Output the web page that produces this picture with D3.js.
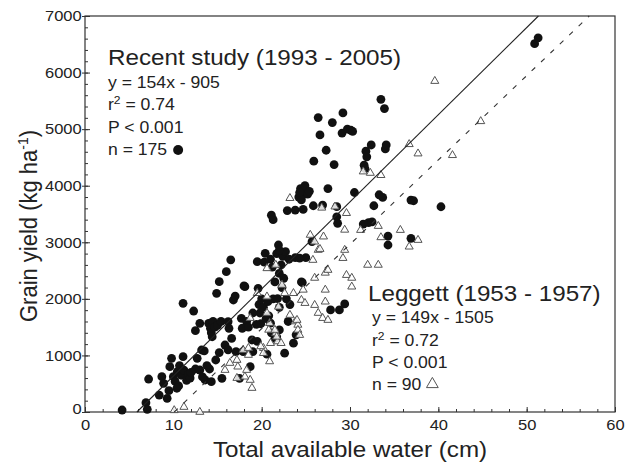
<!DOCTYPE html>
<html><head><meta charset="utf-8">
<script src="https://cdn.jsdelivr.net/npm/d3@7"></script>
<style>body{margin:0;background:#fff}svg{display:block}text{font-family:"Liberation Sans",Arial,Helvetica,sans-serif;fill:#222}</style>
</head><body>
<svg id="c" width="632" height="462"></svg>
<script>
const xTicks = [0,10,20,30,40,50,60];
const yTicks = [0,1000,2000,3000,4000,5000,6000,7000];
const recentFit = {slope:154, intercept:-905};
const leggettFit = {slope:149, intercept:-1505};
const recentLabel = ["Recent study (1993 - 2005)","y = 154x - 905","0.74","P < 0.001","n = 175"];
const leggettLabel = ["Leggett (1953 - 1957)","y = 149x - 1505","0.72","P < 0.001","n = 90"];
const recent = [
[4.2,35],[6.9,165],[7.05,48],[7.2,583],[8.4,300],[8.7,624],[8.9,507],[9.3,242],[9.5,377],[9.6,801],
[9.8,949],[10.0,624],[10.2,540],[10.45,712],[10.6,460],[10.7,820],[10.9,650],[11.1,978],[11.2,740],[11.5,560],
[11.7,660],[11.9,600],[11.1,1921],[12.3,1785],[12.5,1437],[12.7,949],[13.0,1567],[13.0,742],[13.2,1096],[13.5,1080],
[13.6,566],[14.0,1567],[14.1,760],[14.2,1480],[14.3,1400],[14.3,536],[14.4,1330],[14.5,1600],[14.7,1500],[14.8,919],
[14.9,2098],[15.0,1530],[15.2,2303],[15.4,1600],[15.5,596],[15.85,1184],[16.0,2480],[16.2,1596],[16.2,1100],[16.6,1300],
[16.5,2690],[16.8,1980],[17.0,2050],[17.1,1066],[17.5,596],[17.7,1656],[17.8,1480],[17.9,1066],[18.1,2215],[18.7,801],
[18.9,1273],[19.0,1066],[12.5,760],[13.3,620],[13.8,820],[12.0,700],[10.4,420],[16.3,1480],[15.2,1050],
[19.5,2658],[19.6,2186],[19.7,1900],[19.8,1750],[19.9,1560],[20.0,2000],[20.2,1850],[20.4,2805],[20.5,1650],[20.6,1023],
[20.7,1950],[20.8,1700],[21.0,1570],[21.0,2700],[21.1,1400],[21.2,2560],[21.3,2000],[21.5,2300],[21.5,1300],[21.7,2800],
[21.8,2005],[21.9,2952],[22.0,2450],[22.0,1850],[22.2,2600],[22.3,2200],[22.4,2750],[22.5,2364],[22.6,1040],[22.7,2834],
[22.8,2000],[23.0,1600],[23.1,2700],[23.2,1900],[23.6,1217],[23.8,2728],[23.9,1364],[24.6,2287],[25.0,2728],[25.7,3010],
[21.1,3480],[21.3,3400],[22.9,3560],[23.8,3570],[24.7,3581],[25.85,3646],[24.2,3800],[24.4,3950],[24.6,3900],[24.8,3850],
[25.0,3900],[25.2,3850],[24.5,3750],[24.9,4000],[25.4,3900],[24.3,3880],[18.0,2229],[18.3,1600],[18.5,1500],[19.4,1550],
[19.5,1250],[19.0,1750],[22.0,1450],[21.7,1330],[20.3,2650],[22.0,2860],[24.3,2720],[24.5,2300],
[26.9,3658],[27.5,3950],[28.5,3630],[28.5,3450],[28.6,3335],[25.9,4433],[26.4,5204],[26.6,4898],[27.3,4627],[28.0,5116],
[28.2,4374],[29.2,5286],[29.1,4930],[29.7,5000],[30.1,4980],[30.3,4960],[30.5,3880],[31.6,4363],[31.7,4300],[31.9,4510],
[31.8,4610],[32.4,4720],[33.5,5527],[33.9,5363],[34.0,4650],[34.1,4720],[33.3,3840],[33.7,3793],[32.7,3646],[31.5,3322],
[32.1,3346],[32.5,3360],[34.3,3110],[34.3,2952],[36.9,3070],[36.9,3746],[37.2,3734],[40.3,3628],[50.9,6510],[51.3,6615],
[27.8,1805],[28.8,1805],[29.4,1910]
];
const leggett = [
[10.1,30],[11.2,88],[13.0,0],
[15.85,742],[16.4,866],[17.2,919],[17.3,801],[17.9,1096],[18.5,1008],[18.3,742],[18.7,566],[18.9,424],[17.2,600],[18.1,624],[18.5,1130],
[20.2,1130],[20.2,1040],[19.9,1160],[20.8,1452],[20.9,894],[21.0,1217],[21.8,1247],[22.2,1217],[21.6,1394],
[19.5,2100],[20.6,2040],[20.6,1750],[21.5,1450],[21.7,1330],[18.7,1660],[20.9,1570],[21.9,1860],
[20.6,2540],[21.6,2600],[22.3,2245],[22.6,2100],[23.6,2100],[23.2,1715],[23.8,1600],[24.1,1540],[24.1,1450],[24.0,1626],[24.3,1360],
[24.7,2160],[24.5,1980],[24.9,1925],[26.0,1890],[26.4,1750],[26.9,1660],[27.5,1626],[27.2,1950],[27.2,2160],
[26.0,2370],[27.2,2460],[27.5,2510],[25.8,2687],
[29.6,2420],[30.2,2370],[30.2,2215],
[23.2,3780],[25.5,3130],[27.0,3100],[26.0,3010],[26.4,2864],[26.6,2880],[26.8,3610],
[28.3,3630],[29.6,3515],[29.4,3220],[29.4,2864],[29.2,2720],
[31.2,3216],[31.5,4250],[32.3,4225],[33.5,4186],[33.2,3287],[33.5,3087],[32.0,2600],[33.2,2600],[35.7,3216],[36.7,2922],
[36.7,4733],[37.7,4568],[37.7,3040],[39.6,5850],[41.6,4539],[44.8,5139]
];

const SX = 1.1; // horizontal stretch of lettering
const svg = d3.select("#c");
const L=85,R=615,T=16,B=412;
const x = d3.scaleLinear().domain([0,60]).range([L,R]);
const y = d3.scaleLinear().domain([0,7000]).range([B,T]);
const axCol="#333";

svg.append("rect").attr("x",L).attr("y",T).attr("width",R-L).attr("height",B-T)
  .attr("fill","none").attr("stroke",axCol).attr("stroke-width",1.2);

// x axis
svg.append("g").attr("transform",`translate(0,${B})`)
  .call(d3.axisBottom(x).tickValues(d3.range(0,61,2)).tickSize(-3).tickFormat(""))
  .call(g=>{g.select(".domain").remove(); g.selectAll("line").attr("stroke",axCol);});
svg.append("g").attr("transform",`translate(0,${B})`)
  .call(d3.axisBottom(x).tickValues(xTicks).tickSize(-5).tickPadding(7).tickFormat(d3.format("d")))
  .call(g=>{g.select(".domain").remove(); g.selectAll("line").attr("stroke",axCol);
    g.selectAll("text").attr("font-size",15).attr("transform",`scale(${SX},1)`)
     .style("font-family",'"Liberation Sans",Arial,sans-serif').attr("fill","#222");});

// y axis
svg.append("g").attr("transform",`translate(${L},0)`)
  .call(d3.axisLeft(y).tickValues(d3.range(0,7001,200)).tickSize(-3).tickFormat(""))
  .call(g=>{g.select(".domain").remove(); g.selectAll("line").attr("stroke",axCol);});
const gy2 = svg.append("g").attr("transform",`translate(${L},0)`);
gy2.call(d3.axisLeft(y).tickValues(yTicks).tickSize(3).tickPadding(0).tickFormat(d3.format("d")))
  .call(g=>{g.select(".domain").remove(); g.selectAll("line").attr("stroke",axCol).attr("x2",5).attr("x1",-3);
    g.selectAll("text").attr("font-size",15).attr("transform",`scale(${SX},1)`)
     .style("font-family",'"Liberation Sans",Arial,sans-serif').attr("fill","#222");});
gy2.selectAll(".tick").filter(d=>d===0).select("text").attr("dy","0.1em");

// points
svg.append("g").selectAll("circle").data(recent).join("circle")
  .attr("cx",d=>x(d[0])).attr("cy",d=>y(d[1])).attr("r",4.4).attr("fill","#111");
const tri = d3.symbol().type(d3.symbolTriangle).size(28);
svg.append("g").selectAll("path").data(leggett).join("path")
  .attr("d",tri).attr("transform",d=>`translate(${x(d[0])},${y(d[1])})`)
  .attr("fill","#fff").attr("fill-opacity",0.85).attr("stroke","#555").attr("stroke-width",1);

// regression lines
function fitLine(f,x0,x1){ return [[x0,f.slope*x0+f.intercept],[x1,f.slope*x1+f.intercept]]; }
const line = d3.line().x(d=>x(d[0])).y(d=>y(d[1]));
const r0 = -recentFit.intercept/recentFit.slope, r1=(7000-recentFit.intercept)/recentFit.slope;
svg.append("path").attr("d",line(fitLine(recentFit,r0,r1))).attr("stroke","#222").attr("stroke-width",1.1).attr("fill","none");
const l0 = -leggettFit.intercept/leggettFit.slope, l1=(7000-leggettFit.intercept)/leggettFit.slope;
svg.append("path").attr("d",line(fitLine(leggettFit,l0,l1))).attr("stroke","#333").attr("stroke-width",1.1)
  .attr("stroke-dasharray","5,8").attr("fill","none");

// labels
function txt(px,py,size){
  return svg.append("text").attr("transform",`translate(${px},${py}) scale(${SX},1)`).attr("font-size",size);
}
function block(lbl, x0, y0, x1, lh){
  txt(x0,y0,22).text(lbl[0]);
  txt(x1,y0+lh,16).text(lbl[1]);
  const t = txt(x1,y0+2*lh,16);
  t.append("tspan").text("r");
  t.append("tspan").attr("font-size",11).attr("dy",-6).text("2");
  t.append("tspan").attr("dy",6).text(" = "+lbl[2]);
  txt(x1,y0+3*lh,16).text(lbl[3]);
  const n = txt(x1,y0+4*lh,16).text(lbl[4]);
  return n.node().getComputedTextLength()*SX;
}
const w1 = block(recentLabel,108,65,108,22.5);
svg.append("circle").attr("cx",108+w1+11).attr("cy",65+4*22.5-5).attr("r",5).attr("fill","#111");
const w2 = block(leggettLabel,368,301,372,22.3);
svg.append("path").attr("d",d3.symbol().type(d3.symbolTriangle).size(60))
  .attr("transform",`translate(${372+w2+11},${301+4*22.3-6})`).attr("fill","#fff").attr("stroke","#555");

// axis titles
txt((L+R)/2,457,22).attr("text-anchor","middle").text("Total available water (cm)");
const yt = svg.append("text").attr("transform",`translate(37,${(T+B)/2+12}) rotate(-90) scale(1,${SX})`)
  .attr("text-anchor","middle").attr("font-size",22);
yt.append("tspan").text("Grain yield (kg ha");
yt.append("tspan").attr("font-size",14).attr("dy",-8).text("-1");
yt.append("tspan").attr("dy",8).text(")");
</script>
</body></html>
